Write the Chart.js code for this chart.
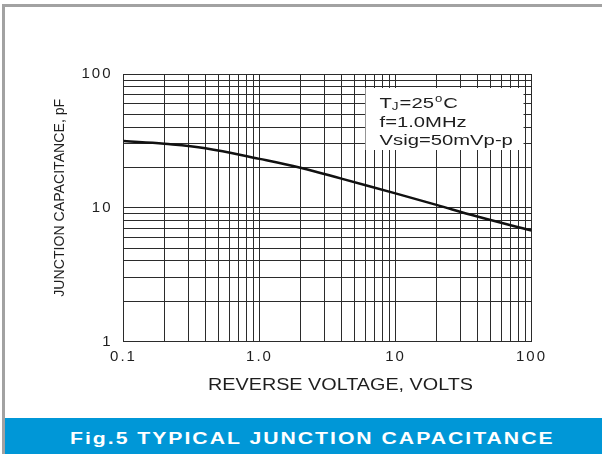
<!DOCTYPE html>
<html>
<head>
<meta charset="utf-8">
<script src="https://cdn.jsdelivr.net/npm/chart.js@4/dist/chart.umd.min.js"></script>
<style>
  html, body { margin: 0; padding: 0; background: #fff; }
  #wrap { position: relative; width: 602px; height: 454px; overflow: hidden; background: #fff; }
  #frame { position: absolute; left: 2px; top: 4px; width: 700px; height: 500px;
           border-top: 3px solid #a2a2a2; border-left: 3px solid #a2a2a2; }
  #banner { position: absolute; left: 5px; right: 0; top: 418px; height: 36px; background: #0097d7; }
  #bannerText { position: absolute; left: 65px; top: 12px; color: #fff; white-space: nowrap;
                font: bold 16px "Liberation Sans", Arial, sans-serif; letter-spacing: 1.5px;
                transform-origin: 0 0; }
  canvas { position: absolute; left: 0; top: 0; }
</style>
</head>
<body>
<div id="wrap">
  <div id="frame"></div>
  <canvas id="chart" width="602" height="454"></canvas>
  <div id="banner"><span id="bannerText">Fig.5 TYPICAL JUNCTION CAPACITANCE</span></div>
</div>
<script>
// reverse voltage (V) and junction capacitance (pF)
const voltage = [0.1, 0.2, 0.4, 1, 2, 4, 10, 20, 40, 100];
const capacitance = [31.5, 30.1, 27.9, 23.2, 19.9, 16.5, 12.8, 10.5, 8.6, 6.75];

// grid lines and labelled ticks
const xGrid = [0.1, 0.2, 0.3, 0.4, 0.5, 0.6, 0.7, 0.8, 0.9,
               1, 2, 3, 4, 5, 6, 7, 8, 9,
               10, 20, 30, 40, 50, 60, 70, 80, 90, 100];
const yGrid = [1, 2, 3, 4, 5, 6, 7, 8, 9,
               10, 20, 30, 40, 50, 60, 70, 80, 90, 100];
const xMajor = [0.1, 1, 10, 100];
const xLabels = ["0.1", "1.0", "10", "100"];
const yMajor = [1, 10, 100];
const yLabels = ["1", "10", "100"];

const conditions = ["=25", "f=1.0MHz", "Vsig=50mVp-p"];
const xTitle = "REVERSE VOLTAGE, VOLTS";
const yTitle = "JUNCTION CAPACITANCE, pF";

const FONT = '"Liberation Sans", Arial, sans-serif';
const INK = "#1e1e1e";

function stretched(ctx, text, x, y, sx) {
  ctx.save();
  ctx.translate(x, y);
  ctx.scale(sx, 1);
  ctx.fillText(text, 0, 0);
  ctx.restore();
}

const decorations = {
  id: "decorations",
  beforeDraw(chart) {
    chart.ctx.letterSpacing = "2px";
  },
  beforeDatasetsDraw(chart) {
    const { ctx, chartArea: a } = chart;
    ctx.save();
    ctx.letterSpacing = "0px";
    // white box with test conditions
    ctx.fillStyle = "#fff";
    ctx.fillRect(a.right - 166, a.top + 14, 158, 62);
    ctx.fillStyle = INK;
    ctx.textBaseline = "middle";
    const sx = 1.35;
    let x = a.right - 152;
    const y1 = a.top + 30;
    ctx.font = "15px " + FONT;
    stretched(ctx, "T", x, y1, sx);
    x += ctx.measureText("T").width * sx;
    ctx.font = "10px " + FONT;
    stretched(ctx, "J", x, y1 + 3, sx);
    x += ctx.measureText("J").width * sx + 1;
    ctx.font = "15px " + FONT;
    stretched(ctx, conditions[0], x, y1, sx);
    x += ctx.measureText(conditions[0]).width * sx;
    ctx.font = "11px " + FONT;
    stretched(ctx, "o", x + 1, y1 - 5, 1.2);
    x += ctx.measureText("o").width * 1.2 + 2;
    ctx.font = "15px " + FONT;
    stretched(ctx, "C", x, y1, sx);
    stretched(ctx, conditions[1], a.right - 152, y1 + 18.5, sx);
    stretched(ctx, conditions[2], a.right - 152, y1 + 37, sx);
    ctx.restore();
  },
  afterDraw(chart) {
    const { ctx, chartArea: a } = chart;
    ctx.save();
    ctx.letterSpacing = "0px";
    ctx.fillStyle = INK;
    ctx.textAlign = "center";
    ctx.textBaseline = "middle";
    // x title
    ctx.font = "16px " + FONT;
    let w = ctx.measureText(xTitle).width;
    stretched(ctx, xTitle, (a.left + a.right) / 2 + 13, a.bottom + 44, 265 / w);
    // y title (rotated)
    ctx.font = "14px " + FONT;
    w = ctx.measureText(yTitle).width;
    ctx.translate(60.5, (a.top + a.bottom) / 2 - 10);
    ctx.rotate(-Math.PI / 2);
    ctx.scale(198 / w, 1);
    ctx.fillText(yTitle, 0, 0);
    ctx.restore();
  }
};

const gridOpts = { color: "#2b2b2b", lineWidth: 1, drawTicks: false };

new Chart(document.getElementById("chart"), {
  type: "line",
  data: {
    datasets: [{
      data: voltage.map((v, i) => ({ x: v, y: capacitance[i] })),
      borderColor: "#111",
      borderWidth: 2.5,
      pointRadius: 0,
      fill: false,
      tension: 0.4
    }]
  },
  options: {
    responsive: false,
    animation: false,
    devicePixelRatio: 1,
    layout: { padding: { left: 0, top: 74, right: 70.5, bottom: 52 } },
    plugins: { legend: { display: false }, tooltip: { enabled: false } },
    scales: {
      x: {
        type: "logarithmic",
        min: 0.1,
        max: 100,
        grid: gridOpts,
        border: { color: "#2b2b2b" },
        afterBuildTicks: s => { s.ticks = xGrid.map(v => ({ value: v })); },
        afterFit: s => { s.height = 60.5; },
        ticks: {
          autoSkip: false,
          maxRotation: 0,
          padding: 6,
          color: INK,
          font: { family: FONT, size: 15 },
          callback: v => { const i = xMajor.indexOf(v); return i >= 0 ? xLabels[i] : ""; }
        }
      },
      y: {
        type: "logarithmic",
        min: 1,
        max: 100,
        grid: gridOpts,
        border: { color: "#2b2b2b" },
        afterBuildTicks: s => { s.ticks = yGrid.map(v => ({ value: v })); },
        afterFit: s => { s.width = 123.5; },
        ticks: {
          autoSkip: false,
          padding: 11,
          color: INK,
          font: { family: FONT, size: 15 },
          callback: v => { const i = yMajor.indexOf(v); return i >= 0 ? yLabels[i] : ""; }
        }
      }
    }
  },
  plugins: [decorations]
});

// fit the banner caption to its width in the figure
const cap = document.getElementById("bannerText");
cap.style.transform = "scaleX(" + (485 / cap.offsetWidth) + ")";
</script>
</body>
</html>
